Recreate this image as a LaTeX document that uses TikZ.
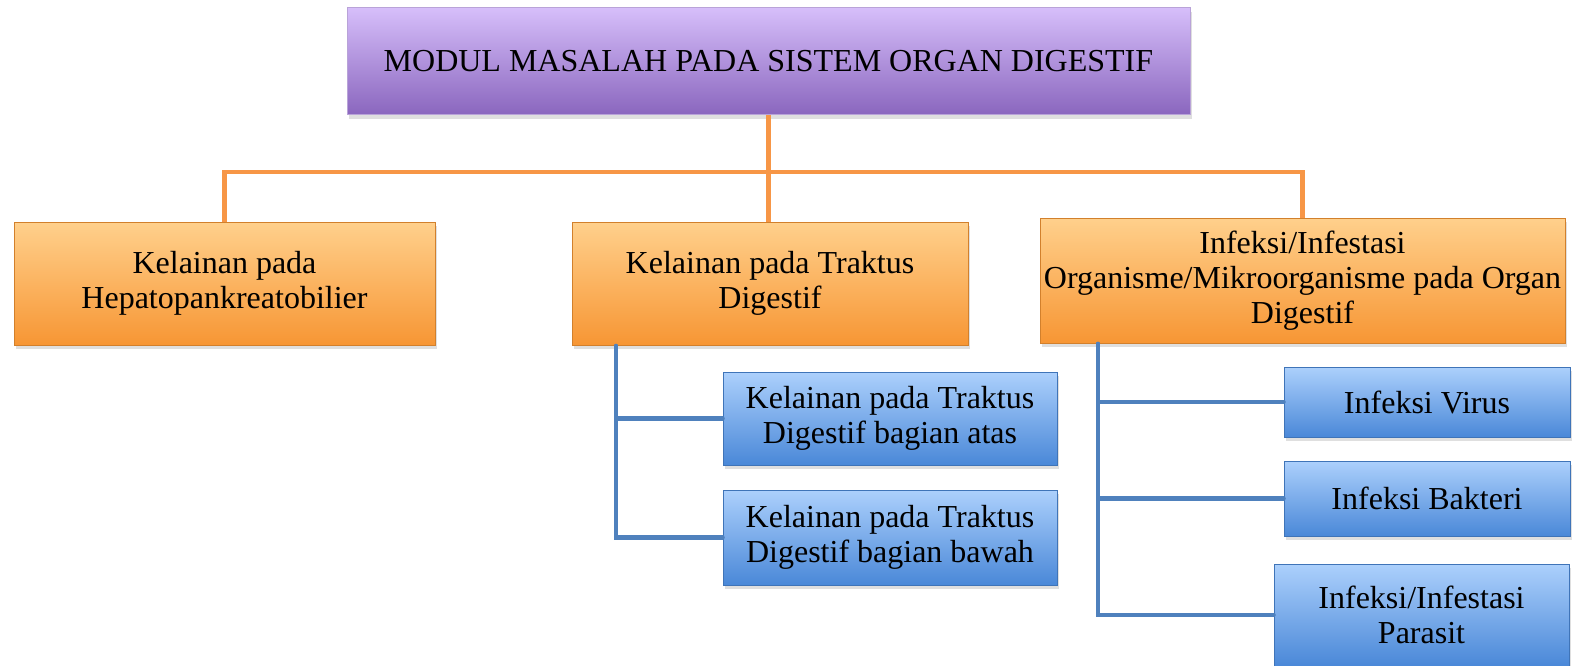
\documentclass[tikz,border=0pt]{standalone}
\usepackage{fontspec}
\setmainfont{Liberation Serif}
\usetikzlibrary{shadows}
\definecolor{purpTop}{RGB}{214,190,250}
\definecolor{purpBot}{RGB}{138,102,190}
\definecolor{orTop}{RGB}{255,208,140}
\definecolor{orBot}{RGB}{247,150,52}
\definecolor{blTop}{RGB}{172,208,252}
\definecolor{blBot}{RGB}{74,136,216}
\definecolor{oLine}{RGB}{247,150,70}
\definecolor{bLine}{RGB}{79,129,189}
\tikzset{
  boxbase/.style={rectangle, inner sep=0pt, align=center,
    font=\fontsize{32}{35}\selectfont,
    drop shadow={opacity=0.25, shadow xshift=2pt, shadow yshift=-4pt}},
  purplebox/.style={boxbase, top color=purpTop, bottom color=purpBot, draw=purpBot!60!white, line width=1pt},
  orangebox/.style={boxbase, top color=orTop, bottom color=orBot, draw=orBot!85!black, line width=1pt},
  bluebox/.style={boxbase, top color=blTop, bottom color=blBot, draw=blBot!85!black, line width=1pt},
  oline/.style={draw=oLine, line width=4.5pt},
  bline/.style={draw=bLine, line width=4.5pt, line cap=round},
}
\begin{document}
\begin{tikzpicture}[x=1pt,y=-1pt]
\useasboundingbox (0,0) rectangle (1576,666);
\node[purplebox, minimum width=843pt, minimum height=107pt] (top) at (768.5,61.5) {MODUL MASALAH PADA SISTEM ORGAN DIGESTIF};
\node[orangebox, minimum width=421pt, minimum height=123pt] (o1) at (224.5,283.5) {Kelainan pada\\Hepatopankreatobilier};
\node[orangebox, minimum width=396pt, minimum height=123pt] (o2) at (770,283.5) {Kelainan pada Traktus\\Digestif};
\node[orangebox, minimum width=525pt, minimum height=125pt] (o3) at (1302.5,280.5) {Infeksi/Infestasi\\Organisme/Mikroorganisme pada Organ\\Digestif};
\node[bluebox, minimum width=334pt, minimum height=93pt] (b1) at (890,418.5) {Kelainan pada Traktus\\Digestif bagian atas};
\node[bluebox, minimum width=334pt, minimum height=95pt] (b2) at (890,537.5) {Kelainan pada Traktus\\Digestif bagian bawah};
\node[bluebox, minimum width=286pt, minimum height=70pt] (b3) at (1427,402) {Infeksi Virus};
\node[bluebox, minimum width=286pt, minimum height=75pt] (b4) at (1427,498.5) {Infeksi Bakteri};
\node[bluebox, minimum width=295pt, minimum height=102pt] (b5) at (1421.5,615) {Infeksi/Infestasi\\Parasit};
% orange connectors
\coordinate (hub) at (768.5,172);
\draw[oline] (top.south) -- (hub);
\draw[oline] (hub) -| (o1.north);
\draw[oline] (hub) -| (o3.north);
\draw[oline] (hub) -- (hub |- o2.north);
% blue connectors
\coordinate (t2) at (616,346);
\draw[bline] (t2) |- (b1.west);
\draw[bline] (t2) |- (b2.west);
\coordinate (t3) at (1098,344);
\draw[bline] (t3) |- (b3.west);
\draw[bline] (t3) |- (b4.west);
\draw[bline] (t3) |- (b5.west);
\end{tikzpicture}
\end{document}
